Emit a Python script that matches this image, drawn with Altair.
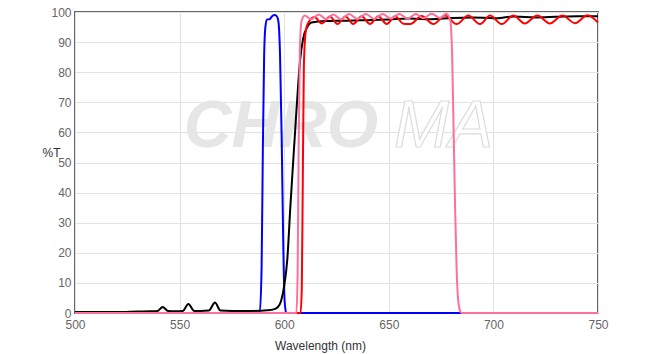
import altair as alt
import pandas as pd

# ---- data ----
blue_wl = [500, 588.3, 589.2, 589.8, 590.4, 591.0, 591.8, 593.0, 594.2, 595.5, 596.6, 597.3, 598.0, 598.8, 599.5, 600.2, 601.0, 750]
blue_t  = [0,   0,     15,    55,    85,    95,    97.5,  97.6,  98.6,  99.0,  98.4,  96.5,  86,    58,    25,    4,     0,     0]

black_wl = [500, 520, 530, 536, 539.5, 541.9, 544.5, 548, 551.5, 554.2, 557, 560, 564, 566.9, 569.5, 575, 585, 592, 595, 597, 598.5, 600, 601.5, 603, 605, 606.5, 607.6, 609, 611, 613, 620, 630, 640, 650, 660, 670, 680, 690, 700, 710, 720, 730, 740, 750]
black_t  = [0.3, 0.3, 0.5, 0.6, 0.7,   2.0,   0.7,   0.6, 0.7,   3.0,   0.7, 0.7, 0.8, 3.5,   0.8,   0.7, 0.7, 0.9, 1.2, 2.0, 4.0,   9,   18,    36,  58,  74,    84,    91,  95,  96.5, 97, 97.1, 97.3, 97.5, 97.8, 97.6, 98.0, 98.2, 97.9, 98.5, 98.2, 98.4, 98.6, 98.6]

red_wl = [500, 607.8, 608.4, 608.9, 609.4, 610.2, 611.2, 614.5, 618, 621.8, 625.5, 629.3, 633, 637, 641, 645, 649, 653, 657, 660.3, 665.7, 671.3, 676.9, 682.4, 688, 693.6, 698.4, 704, 709.5, 715, 721, 727, 733, 739, 745, 750]
red_t  = [0,   0,     8,     45,    82,    93,    96,    98.3,  96.2, 98.5,  96.0,  98.5,  96.0, 98.6, 96.0, 98.6, 96.0, 98.6, 96.1, 96.0,  98.7,  96.0,  98.8,  96.0,  98.8, 96.0,  98.8,  96.0, 98.8,  96.2, 98.8, 96.2, 98.8, 96.3, 98.9, 96.5]

pink_wl = [500, 605.8, 606.4, 606.9, 607.5, 608.3, 609.8, 613, 616.5, 620, 623.5, 627, 631, 635, 639, 643, 647, 651, 655, 659, 663, 666.5, 670.5, 674.5, 677.5, 679.3, 680.3, 681.0, 681.7, 682.4, 683.2, 684.2, 685, 750]
pink_t  = [0,   0,     12,    55,    88,    97,    98.8,  97.6, 99.2,  97.6, 99.2,  97.6, 99.3, 97.7, 99.3, 97.7, 99.3, 97.8, 99.3, 97.8, 99.3, 97.9,  99.4,  98.0,  99.4,  97.5,  85,    60,    35,    15,    4,     0.5,   0,   0]

series_order = ["blue", "black", "red", "pink"]
series_color = {"blue": "#0000ff", "black": "#000000", "red": "#ff0000", "pink": "#ff6f9c"}
series_data = {
    "blue": (blue_wl, blue_t),
    "black": (black_wl, black_t),
    "red": (red_wl, red_t),
    "pink": (pink_wl, pink_t),
}

x_ticks = [500, 550, 600, 650, 700, 750]
y_ticks = [0, 10, 20, 30, 40, 50, 60, 70, 80, 90, 100]

# watermark text, placed in data units
wm_chro_df = pd.DataFrame({"wl": [552.0], "t": [55.0], "txt": ["CHRO"]})
wm_ma_df = pd.DataFrame({"wl": [652.5], "t": [55.0], "txt": ["MA"]})

x_scale = alt.Scale(domain=[500, 750], nice=False, zero=False)
y_scale = alt.Scale(domain=[0, 100], nice=False)

x_axis = alt.Axis(values=x_ticks, title="Wavelength (nm)", ticks=False, labelPadding=6,
                  labelColor="#666666", labelFontSize=12, labelFont="Liberation Sans",
                  titleFont="Liberation Sans", titleFontSize=12, titleFontWeight="normal",
                  titleColor="#333333", titleX=245, titleY=32, titleBaseline="middle",
                  gridColor="#e2e2e2", domain=False, labelFlush=False, labelOverlap=False)
y_axis = alt.Axis(values=y_ticks, title="%T", ticks=False, labelPadding=4,
                  labelColor="#666666", labelFontSize=12, labelFont="Liberation Sans",
                  titleFont="Liberation Sans", titleFontSize=12, titleFontWeight="normal",
                  titleColor="#333333", titleAngle=0, titleX=-24, titleY=140,
                  titleAlign="center", titleBaseline="middle",
                  gridColor="#e2e2e2", domain=False, labelFlush=False, labelOverlap=False)

X = alt.X("wl:Q", scale=x_scale, axis=x_axis)
Y = alt.Y("t:Q", scale=y_scale, axis=y_axis)

wm_chro = alt.Chart(wm_chro_df).mark_text(
    font="Liberation Sans", fontSize=66,
    fontWeight="bold", fontStyle="italic", align="left", baseline="alphabetic",
    color="#e6e6e6"
).encode(x=X, y=Y, text="txt:N")
wm_ma = alt.Chart(wm_ma_df).mark_text(
    font="Liberation Sans", fontSize=66,
    fontWeight="normal", fontStyle="italic", align="left", baseline="alphabetic",
    fill="#ffffff", stroke="#dcdcdc", strokeWidth=1.2
).encode(x=X, y=Y, text="txt:N")

layers = [wm_chro, wm_ma]
for name in series_order:
    wl, t = series_data[name]
    df = pd.DataFrame({"wl": wl, "t": t})
    layers.append(
        alt.Chart(df).mark_line(color=series_color[name], strokeWidth=2,
                                interpolate="monotone").encode(x=X, y=Y)
    )

chart = alt.layer(*layers).properties(
    width=523, height=301,
    autosize=alt.AutoSizeParams(type="none"),
    padding={"left": 75, "top": 12, "right": 54, "bottom": 41},
    background="#ffffff",
).configure_view(
    stroke="#666666", strokeWidth=2
)

chart.save("out.html", embed_options={"renderer": "svg", "actions": False})
